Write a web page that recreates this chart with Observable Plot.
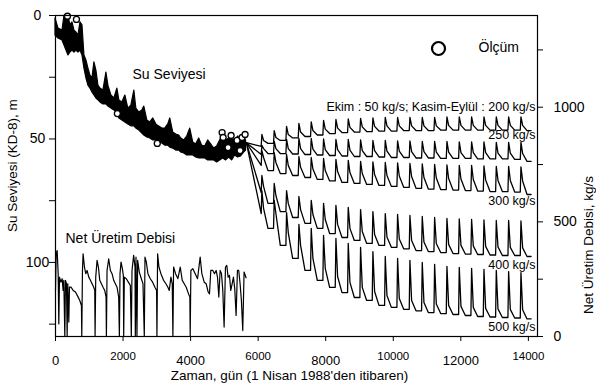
<!DOCTYPE html>
<html><head><meta charset="utf-8">
<script src="https://cdn.jsdelivr.net/npm/d3@7"></script>
<script src="https://cdn.jsdelivr.net/npm/@observablehq/plot@0.6"></script>
<style>
html,body{margin:0;padding:0;background:#fff;}
#chart{width:596px;height:385px;overflow:hidden;}
</style>
</head><body><div id="chart"></div>
<script>
// ---------- axes ----------
const xTicks = [0, 2000, 4000, 6000, 8000, 10000, 12000, 14000];
const leftTicks = [0, 25, 50, 75, 100, 125];
const leftLabeled = [0, 50, 100];
const rightTicks = [0, 250, 500, 750, 1000, 1250];
const rightLabeled = [0, 500, 1000];
const levelMax = 130;   // m, bottom of left axis
const rateMax = 1400;   // kg/s, top of right axis
const dayMax = 14270;

// ---------- measured water level band (day, upper edge m, lower edge m) ----------
const levelDays = [0,89,207,266,325,384,443,502,561,620,679,739,798,857,916,975,1034,1093,1152,1211,1270,1329,1418,1507,1566,1654,1743,1831,1891,1979,2068,2156,2245,2334,2393,2481,2570,2629,2718,2806,2895,2984,3072,3161,3249,3338,3397,3486,3574,3663,3722,3811,3899,3988,4077,4165,4254,4342,4431,4520,4608,4697,4785,4874,4963,5051,5140,5229,5317,5406,5494,5583,5642];
const levelTop = [1.2,5.3,6.1,0,0,0.4,4.0,2.8,6.1,6.9,8.1,2.8,4.0,16.2,18.2,21.5,24.3,25.5,19.0,22.3,28.4,29.6,30.4,23.1,28.4,32.4,33.6,29.6,34.4,35.2,32.4,37.7,36.5,30.4,37.7,39.3,38.5,36.9,42.5,43.3,41.7,44.1,45.0,45.8,45.8,44.1,41.7,47.4,48.2,48.6,49.8,50.6,49.0,45.8,51.4,52.2,49.8,52.7,53.1,50.6,52.2,53.9,53.1,50.6,49.0,50.6,49.8,49.8,50.6,49.0,50.6,49.8,50.6];
const levelBottom = [8.1,9.3,10.1,12.2,14.2,16.2,15.0,14.2,15.0,14.2,15.0,14.2,16.2,21.5,25.5,28.4,29.6,31.2,32.4,33.6,34.4,35.2,36.0,36.0,36.9,37.7,38.5,39.3,41.7,42.5,43.3,44.1,44.9,44.9,45.8,46.6,47.8,48.6,49.4,49.8,50.6,50.6,51.4,51.8,52.7,52.7,53.5,53.9,54.7,54.7,55.5,55.9,56.7,56.7,56.7,57.5,57.9,57.9,57.9,58.7,58.7,58.7,59.5,58.7,57.9,58.7,57.5,58.7,56.7,57.5,57.1,55.5,54.7];

// ---------- measurements (Ölçüm) ----------
const measDays = [354, 620, 1831, 3013, 4933, 4963, 5110, 5199, 5376, 5465, 5524, 5613];
const measLevel = [0.3, 1.6, 39.7, 51.8, 47.4, 49.4, 53.5, 48.6, 50.6, 54.7, 49.4, 48.2];

// ---------- net production rate (kg/s) ----------
const prodDays = [0,20,49,79,98,118,158,197,226,246,276,295,325,345,364,394,414,463,522,591,660,719,768,778,798,817,857,896,935,985,1034,1083,1132,1162,1172,1191,1231,1270,1310,1359,1408,1457,1497,1507,1526,1575,1625,1674,1723,1772,1822,1871,1891,1910,1940,1979,2009,2019,2038,2097,2157,2216,2245,2265,2314,2354,2363,2383,2412,2432,2481,2541,2590,2629,2649,2688,2737,2806,2875,2944,2993,3003,3023,3062,3121,3200,3269,3328,3368,3417,3456,3476,3496,3555,3624,3693,3752,3811,3870,3939,3978,3988,4008,4067,4136,4205,4283,4333,4402,4461,4520,4559,4598,4658,4707,4756,4796,4835,4874,4914,4953,4992,5032,5071,5110,5150,5189,5229,5268,5307,5347,5386,5425,5465,5504,5544,5583,5642];
const prodRate = [201,361,375,274,55,259,237,252,201,245,0,245,230,0,230,63,215,215,201,194,175,157,135,0,288,361,303,274,288,259,245,230,215,201,0,259,332,303,245,230,215,201,172,0,288,339,288,274,245,230,215,172,0,274,325,296,266,0,259,252,237,223,0,288,354,303,0,346,0,332,281,252,230,0,346,325,274,252,237,215,201,0,361,303,274,245,230,215,201,259,230,0,303,274,252,303,245,230,215,186,172,0,288,296,274,252,346,274,237,230,194,186,288,288,274,288,259,172,288,274,201,41,303,310,259,266,201,230,259,208,92,288,288,230,157,26,281,256];

// ---------- scenario predictions (water level, m) ----------
const scenStartDay = 5650, scenStartLevel = 51.5, scenEndDay = 14080;
const spikeDays = [6090,6455,6821,7186,7551,7916,8282,8647,9012,9377,9743,10108,10473,10838,11204,11569,11934,12299,12665,13030,13395,13760];

const s200Bottom = [53.0,51.8,50.6,49.6,49.0,48.4,47.8,47.4,47.2,47.0,46.8,46.8,46.6,46.6,46.6,46.4,46.4,46.4,46.4,46.4,46.4,46.4];
const s200Peak   = [48.2,46.6,44.9,43.7,43.1,42.5,42.1,41.9,41.7,41.5,41.3,41.3,41.3,41.3,41.3,41.1,41.1,41.1,41.1,41.1,41.1,41.1];
const s200Foot   = [50.6,49.4,48.2,47.2,46.6,46.0,45.6,45.3,45.1,44.9,44.7,44.7,44.7,44.7,44.7,44.5,44.5,44.5,44.5,44.5,44.5,44.5];
const s200End = 46.6;

const s250Bottom = [56.3,55.9,55.9,56.1,56.3,56.5,56.7,56.9,57.1,57.1,57.3,57.5,57.5,57.7,57.7,57.9,57.9,57.9,58.1,58.1,58.1,58.3];
const s250Peak   = [52.6,51.0,50.2,49.8,49.8,50.0,50.2,50.2,50.4,50.6,50.6,50.8,50.8,51.0,51.0,51.0,51.2,51.2,51.2,51.4,51.4,51.4];
const s250Foot   = [53.9,53.9,53.9,53.9,54.1,54.3,54.3,54.5,54.7,54.7,54.9,54.9,55.1,55.1,55.3,55.3,55.5,55.5,55.5,55.7,55.7,55.9];
const s250End = 59.1;

const s300Bottom = [60.7,62.8,64.0,64.8,65.6,66.4,67.0,67.6,68.0,68.4,68.8,69.2,69.6,70.0,70.3,70.5,70.7,70.9,71.1,71.3,71.3,71.5];
const s300Peak   = [54.7,55.5,56.3,57.1,57.5,57.9,58.3,58.7,59.1,59.3,59.5,59.7,59.9,60.1,60.3,60.5,60.7,60.7,60.9,61.1,61.1,61.3];
const s300Foot   = [57.5,59.5,60.7,61.5,62.2,62.8,63.2,63.6,64.0,64.4,64.8,65.0,65.2,65.6,65.8,66.0,66.2,66.4,66.6,66.8,66.8,67.0];
const s300End = 72.5;

const s400Bottom = [71.7,76.1,79.4,81.8,84.2,86.2,88.3,89.9,91.1,92.3,93.1,93.9,94.5,95.2,95.6,96.0,96.4,96.6,96.8,97.0,97.2,97.2];
const s400Peak   = [64.8,68.0,70.9,73.3,74.9,76.1,76.9,77.7,78.6,79.4,80.2,80.6,81.0,81.4,81.8,82.2,82.4,82.6,82.8,83.0,83.0,83.2];
const s400Foot   = [69.2,72.9,76.1,78.6,80.6,82.6,84.6,86.2,87.5,88.7,89.7,90.5,91.1,91.7,92.3,92.7,93.1,93.3,93.5,93.7,93.9,94.1];
const s400End = 97.6;

const s500Bottom = [80.2,86.2,93.1,98.4,103.2,107.3,110.1,112.2,114.2,115.4,117.4,118.2,119.0,119.6,120.3,120.7,121.1,121.5,121.9,122.1,122.3,122.5];
const s500Peak   = [70.9,74.9,79.8,84.6,86.2,89.1,90.3,92.3,93.9,95.6,97.6,98.4,99.2,100.0,100.8,101.6,102.0,102.4,102.8,103.2,103.7,104.1];
const s500Foot   = [78.1,80.2,87.9,93.1,98.4,102.4,105.7,108.1,110.1,111.8,113.4,114.6,115.4,116.2,116.8,117.4,117.8,118.2,118.6,118.8,119.0,119.2];
const s500End = 122.9;

const scenarioLabels = ["Ekim : 50 kg/s; Kasim-Eylül : 200 kg/s", "250 kg/s", "300 kg/s", "400 kg/s", "500 kg/s"];

// ---------- build tables ----------
const rateToLevel = r => levelMax - r * levelMax / rateMax;
const levelToRate = m => Math.round((levelMax - m) * rateMax / levelMax);

const band = levelDays.map((d, i) => ({d, top: levelTop[i], bottom: levelBottom[i]}));
const meas = measDays.map((d, i) => ({d, m: measLevel[i]}));
const prod = prodDays.map((d, i) => ({d, m: rateToLevel(prodRate[i])}));

const scenarios = [
  {s: "200", bottom: s200Bottom, peak: s200Peak, foot: s200Foot, end: s200End},
  {s: "250", bottom: s250Bottom, peak: s250Peak, foot: s250Foot, end: s250End},
  {s: "300", bottom: s300Bottom, peak: s300Peak, foot: s300Foot, end: s300End},
  {s: "400", bottom: s400Bottom, peak: s400Peak, foot: s400Foot, end: s400End},
  {s: "500", bottom: s500Bottom, peak: s500Peak, foot: s500Foot, end: s500End}
];
const scenPts = [];
for (const sc of scenarios) {
  scenPts.push({s: sc.s, d: scenStartDay, m: scenStartLevel});
  spikeDays.forEach((S, k) => {
    const next = k < spikeDays.length - 1 ? sc.bottom[k + 1] : sc.end;
    scenPts.push({s: sc.s, d: S, m: sc.bottom[k]});
    scenPts.push({s: sc.s, d: S + 20, m: sc.peak[k]});
    scenPts.push({s: sc.s, d: S + 70, m: sc.foot[k]});
    scenPts.push({s: sc.s, d: S + 200, m: next});
  });
  scenPts.push({s: sc.s, d: scenEndDay, m: sc.end});
}

const evenX = xTicks.filter((d, i) => i % 2 === 0);
const oddX = xTicks.filter((d, i) => i % 2 === 1);
const labelDy = [91, 119, 185.5, 249, 311];

const font = "'Liberation Sans', Arial, sans-serif";

const chart = Plot.plot({
  width: 596,
  height: 385,
  marginLeft: 55,
  marginRight: 59,
  marginTop: 15,
  marginBottom: 49,
  x: {domain: [0, dayMax]},
  y: {domain: [0, levelMax], reverse: true},
  style: {fontFamily: font, background: "white", color: "black", overflow: "visible"},
  marks: [
    // measured level band
    Plot.areaY(band, {x: "d", y1: "top", y2: "bottom", fill: "black", stroke: "black", strokeWidth: 1.2}),
    // net production (right axis)
    Plot.line(prod, {x: "d", y: "m", stroke: "black", strokeWidth: 1.2}),
    // scenario predictions
    Plot.line(scenPts, {x: "d", y: "m", z: "s", stroke: "black", strokeWidth: 1.3}),
    // measurements
    Plot.dot(meas, {x: "d", y: "m", r: 3, stroke: "black", fill: "white", strokeWidth: 1.3}),
    Plot.frame({stroke: "black", strokeWidth: 1.2}),
    // bottom axis with alternating label sizes
    Plot.axisX(evenX, {tickSize: 5, tickPadding: 14, fontSize: 13, label: null, tickFormat: d => String(d)}),
    Plot.axisX(oddX, {tickSize: 5, tickPadding: 10, fontSize: 11.5, label: null, tickFormat: d => String(d)}),
    // left axis
    Plot.axisY(leftTicks, {tickSize: 6, tickPadding: 12, fontSize: 14, label: null, textAnchor: "middle",
      tickFormat: d => leftLabeled.includes(d) ? String(d) : ""}),
    // right axis (production rate)
    Plot.axisY(rightTicks.map(rateToLevel), {anchor: "right", tickSize: 5, tickPadding: 11, fontSize: 14, label: null,
      tickFormat: m => rightLabeled.includes(levelToRate(m)) ? String(levelToRate(m)) : ""}),
    // axis titles
    Plot.text(["Zaman, gün (1 Nisan 1988'den itibaren)"], {text: d => d, frameAnchor: "bottom", dx: -7, dy: 39, fontSize: 13.5, lineAnchor: "middle"}),
    Plot.text(["Su Seviyesi (KD-8), m"], {text: d => d, frameAnchor: "left", rotate: -90, dx: -43, dy: 56, fontSize: 13.5, lineAnchor: "middle"}),
    Plot.text(["Net Üretim Debisi, kg/s"], {text: d => d, frameAnchor: "right", rotate: -90, dx: 51, dy: 0, fontSize: 13.5, lineAnchor: "middle"}),
    // annotations
    Plot.text(["Su Seviyesi"], {text: d => d, frameAnchor: "top-left", dx: 77, dy: 59, fontSize: 14, textAnchor: "start", lineAnchor: "middle"}),
    Plot.text(["Net Üretim Debisi"], {text: d => d, frameAnchor: "top-left", dx: 10, dy: 223, fontSize: 14, textAnchor: "start", lineAnchor: "middle"}),
    // legend
    Plot.dot([0], {frameAnchor: "top-right", dx: -99, dy: 33, r: 6.5, stroke: "black", fill: "white", strokeWidth: 2.2}),
    Plot.text(["Ölçüm"], {text: d => d, frameAnchor: "top-right", dx: -59, dy: 32, fontSize: 14, textAnchor: "start", lineAnchor: "middle"}),
    // scenario labels
    ...scenarioLabels.map((t, i) => Plot.text([t], {text: d => d, frameAnchor: "top-right", dx: -2, dy: labelDy[i], fontSize: 12.5, textAnchor: "end", lineAnchor: "middle", fill: "black"}))
  ]
});
document.getElementById("chart").appendChild(chart);
</script>
</body></html>
